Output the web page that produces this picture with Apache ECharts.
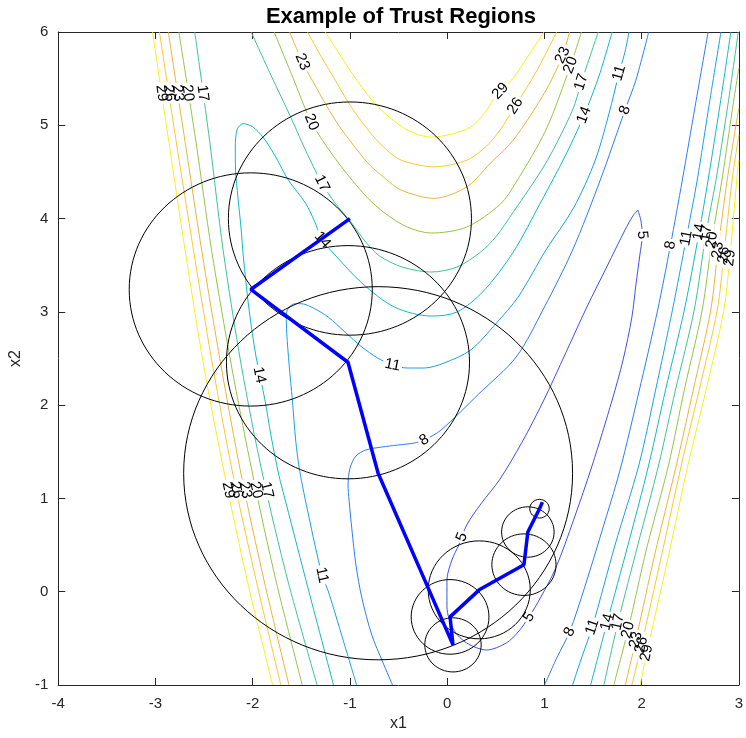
<!DOCTYPE html>
<html>
<head>
<meta charset="utf-8">
<title>Example of Trust Regions</title>
<script src="https://cdn.jsdelivr.net/npm/echarts/dist/echarts.min.js"></script>
<style>
  html, body { margin: 0; padding: 0; background: #fff; }
  #chart { width: 746px; height: 738px; }
</style>
</head>
<body>
<div id="chart"></div>
<script>
// ---- contour levels ----
const levels = [5, 8, 11, 14, 17, 20, 23, 26, 29];

// ---- contour lines, [x1, x2] vertices ----
const c5Loop = [[1.961,4.091],[1.992,3.984],[2.007,3.823],[1.982,3.609],[1.941,3.287],[1.9,2.944],[1.809,2.483],[1.697,2.055],[1.493,1.358],[1.3,0.768],[1.117,0.254],[0.964,-0.057],[0.842,-0.271],[0.73,-0.432],[0.608,-0.55],[0.405,-0.625],[0.201,-0.55],[0.069,-0.411],[-0.002,-0.164],[-0.002,0.125],[0.049,0.34],[0.12,0.501],[0.201,0.715],[0.354,0.951],[0.537,1.197],[0.771,1.604],[0.995,2.055],[1.219,2.558],[1.432,3.041],[1.646,3.491],[1.829,3.877],[1.91,4.027],[1.961,4.091]];

const c8Upper = [[2.073,6.0],[1.941,5.484],[1.829,5.163],[1.575,4.413],[1.29,3.662],[0.995,3.041],[0.71,2.516],[0.324,2.119],[-0.063,1.733],[-0.236,1.626],[-0.338,1.594],[-0.511,1.572],[-0.673,1.551],[-0.836,1.519],[-0.938,1.454],[-0.999,1.326],[-1.019,1.144],[-1.009,0.983],[-0.979,0.661],[-0.938,0.286],[-0.877,-0.068],[-0.775,-0.464],[-0.663,-0.753],[-0.562,-1.0]];
const c8Right = [[1.002,-1.0],[1.127,-0.711],[1.259,-0.432],[1.412,0.04],[1.595,0.661],[1.778,1.304],[1.972,2.14],[2.165,3.019],[2.297,3.716],[2.419,4.413],[2.551,5.206],[2.684,6.0]];

const c11Main = [[1.87,6.0],[1.829,5.785],[1.768,5.559],[1.666,5.131],[1.524,4.627],[1.3,4.113],[1.015,3.662],[0.73,3.159],[0.507,2.88],[0.242,2.591],[-0.033,2.451],[-0.236,2.398],[-0.409,2.398],[-0.562,2.43],[-0.714,2.505],[-0.877,2.623],[-1.05,2.783],[-1.223,2.944],[-1.375,3.041],[-1.477,3.084],[-1.558,3.089],[-1.625,3.051],[-1.655,2.966],[-1.65,2.773],[-1.625,2.43],[-1.592,2.055],[-1.558,1.626],[-1.518,1.304],[-1.426,0.822],[-1.287,0.179],[-1.22,-0.003],[-1.07,-0.518],[-0.931,-1.0]];
const c11Right = [[1.29,-1.0],[1.392,-0.68],[1.493,-0.378],[1.727,0.501],[1.972,1.358],[2.144,2.162],[2.317,3.019],[2.46,3.791],[2.572,4.413],[2.694,5.216],[2.816,6.0]];

const c14Main = [[1.697,6.0],[1.565,5.538],[1.409,5.109],[1.219,4.681],[0.964,4.177],[0.68,3.641],[0.374,3.223],[0.1,2.998],[-0.165,2.955],[-0.541,3.051],[-0.877,3.309],[-1.162,3.62],[-1.284,3.77],[-1.365,3.973],[-1.457,4.166],[-1.64,4.423],[-1.762,4.659],[-1.894,4.874],[-1.996,4.981],[-2.047,5.007],[-2.098,5.018],[-2.159,4.959],[-2.179,4.766],[-2.176,4.52],[-2.152,4.23],[-2.118,3.877],[-2.098,3.609],[-2.037,3.019],[-1.965,2.516],[-1.874,2.055],[-1.813,1.68],[-1.731,1.251],[-1.66,0.961],[-1.426,0.018],[-1.169,-1.0]];
const c14Right = [[1.476,-1.0],[1.646,-0.325],[1.86,0.501],[2.073,1.358],[2.246,2.162],[2.439,3.019],[2.592,3.855],[2.684,4.413],[2.806,5.216],[2.918,6.0]];

const c17Wall = [[-2.596,6.0],[-2.444,4.841],[-2.304,3.662],[-2.118,2.43],[-1.897,1.251],[-1.64,0.125],[-1.338,-1.0]];
const c17Arc = [[-2.016,6.0],[-1.813,5.538],[-1.609,5.088],[-1.457,4.734],[-1.287,4.377],[-1.152,4.166],[-0.982,3.952],[-0.846,3.759],[-0.694,3.598],[-0.46,3.48],[-0.165,3.427],[0.1,3.48],[0.344,3.641],[0.507,3.812],[0.68,4.07],[1.015,4.595],[1.29,5.163],[1.381,5.463],[1.554,6.0]];
const c17Right = [[1.612,-1.0],[1.758,-0.325],[1.961,0.501],[2.175,1.358],[2.348,2.162],[2.541,3.019],[2.663,3.845],[2.765,4.413],[2.887,5.216],[2.994,6.0]];

const c20Wall = [[-2.759,6.0],[-2.586,4.841],[-2.423,3.662],[-2.22,2.43],[-1.999,1.251],[-1.762,0.125],[-1.49,-1.0]];
const c20Arc = [[-1.779,6.0],[-1.589,5.517],[-1.396,5.034],[-1.192,4.702],[-0.979,4.413],[-0.816,4.22],[-0.643,4.059],[-0.409,3.909],[-0.165,3.845],[0.201,3.909],[0.547,4.155],[0.71,4.391],[1.015,4.949],[1.27,5.645],[1.381,6.0]];
const c20Right = [[1.714,-1.0],[1.86,-0.411],[2.053,0.468],[2.277,1.358],[2.439,2.162],[2.623,3.019],[2.724,3.77],[2.826,4.413],[2.948,5.27],[3.0,5.613]];

const c23Wall = [[-2.868,6.0],[-2.698,4.841],[-2.525,3.662],[-2.327,2.43],[-2.118,1.251],[-1.884,0.125],[-1.627,-1.0]];
const c23Arc = [[-1.62,6.0],[-1.49,5.681],[-1.389,5.484],[-1.152,5.056],[-0.989,4.82],[-0.813,4.592],[-0.643,4.434],[-0.473,4.305],[-0.134,4.217],[0.204,4.341],[0.443,4.592],[0.68,4.841],[1.018,5.377],[1.188,5.752],[1.259,6.0]];
const c23Right = [[1.832,-1.0],[1.941,-0.518],[2.134,0.393],[2.358,1.358],[2.531,2.162],[2.711,3.019],[2.785,3.662],[2.88,4.413],[3.0,5.184]];

const c26Wall = [[-2.959,6.0],[-2.789,4.841],[-2.609,3.662],[-2.413,2.43],[-2.202,1.251],[-1.965,0.125],[-1.711,-1.0]];
const c26Arc = [[-1.436,6.0],[-1.304,5.752],[-1.152,5.484],[-0.999,5.216],[-0.813,4.949],[-0.653,4.766],[-0.473,4.627],[-0.134,4.555],[0.204,4.627],[0.405,4.777],[0.544,4.949],[0.7,5.206],[0.914,5.57],[1.127,6.0]];
const c26Right = [[1.9,-1.0],[1.999,-0.571],[2.195,0.34],[2.409,1.358],[2.592,2.162],[2.778,3.019],[2.846,3.609],[2.931,4.413],[3.0,4.895]];

const c29Wall = [[-3.03,6.0],[-2.865,4.84],[-2.695,3.66],[-2.505,2.43],[-2.288,1.251],[-2.057,0.125],[-1.795,-1.0]];
const c29Arc = [[-1.253,6.0],[-1.121,5.785],[-0.979,5.559],[-0.816,5.324],[-0.643,5.131],[-0.409,4.949],[-0.165,4.873],[0.049,4.906],[0.242,4.981],[0.385,5.131],[0.507,5.324],[0.68,5.506],[0.832,5.742],[0.995,6.0]];
const c29Right = [[1.985,-1.0],[2.053,-0.657],[2.256,0.286],[2.477,1.358],[2.663,2.162],[2.846,3.019],[2.907,3.577],[2.979,4.413],[3.0,4.627]];

// ---- contour labels: [x1, x2, level] ----
const contourLabels = [
  [-2.937,5.345,29],[-2.861,5.345,26],[-2.769,5.345,23],[-2.667,5.345,20],[-2.515,5.345,17],
  [-2.25,1.09,29],[-2.169,1.09,26],[-2.077,1.09,23],[-1.965,1.09,20],[-1.854,1.09,17],
  [-1.49,5.681,23],[-1.396,5.034,20],[-1.287,4.377,17],[-1.284,3.77,14],[-1.932,2.323,14],
  [-0.562,2.43,11],[-1.287,0.179,11],[-0.236,1.626,8],
  [0.547,5.367,29],[0.7,5.206,26],[1.188,5.752,23],[1.27,5.645,20],[1.381,5.463,17],
  [1.409,5.109,14],[1.768,5.559,11],[1.829,5.163,8],
  [2.007,3.823,5],[0.151,0.586,5],[0.842,-0.271,5],
  [2.297,3.716,8],[2.46,3.791,11],[2.592,3.855,14],[2.663,3.845,17],[2.724,3.77,20],
  [2.785,3.662,23],[2.846,3.609,26],[2.907,3.577,29],
  [1.259,-0.432,8],[1.493,-0.378,11],[1.646,-0.325,14],[1.758,-0.325,17],[1.86,-0.411,20],
  [1.941,-0.518,23],[1.999,-0.571,26],[2.053,-0.657,29]
];

// ---- iterates of the trust-region method and the radius used at each one ----
const iterates = [[-1,4],[-2.02,3.24],[-1.02,2.46],[-0.71,1.27],[0.06,-0.57],[0.03,-0.27],[0.33,0.02],[0.79,0.29],[0.83,0.64],[0.95,0.89],[0.98,0.96]];
const radii = [1.25, 1.25, 1.25, 2.0, 0.29, 0.40, 0.525, 0.33, 0.27, 0.10];

// ---- axis ranges ----
const xRange = [-4, 3];
const yRange = [-1, 6];

// ---- styling ----
const FONT = '"Liberation Sans", Arial, Helvetica, sans-serif';
const AXIS_COLOR = '#262626';
const levelColors = {
  5: '#3e52e8', 8: '#2d7df5', 11: '#19a0e6', 14: '#0fb9c8', 17: '#3cc396',
  20: '#96c346', 23: '#ebb437', 26: '#fac82d', 29: '#f8f019'
};

const contourPieces = [
  { level: 5, points: c5Loop },
  { level: 8, points: c8Upper }, { level: 8, points: c8Right },
  { level: 11, points: c11Main }, { level: 11, points: c11Right },
  { level: 14, points: c14Main }, { level: 14, points: c14Right },
  { level: 17, points: c17Wall }, { level: 17, points: c17Arc }, { level: 17, points: c17Right },
  { level: 20, points: c20Wall }, { level: 20, points: c20Arc }, { level: 20, points: c20Right },
  { level: 23, points: c23Wall }, { level: 23, points: c23Arc }, { level: 23, points: c23Right },
  { level: 26, points: c26Wall }, { level: 26, points: c26Arc }, { level: 26, points: c26Right },
  { level: 29, points: c29Wall }, { level: 29, points: c29Arc }, { level: 29, points: c29Right }
];

const trustRegions = radii.map((r, i) => [iterates[i][0], iterates[i][1], r]);

function segDist(p, a, b) {
  const dx = b[0] - a[0], dy = b[1] - a[1];
  const len2 = dx * dx + dy * dy || 1;
  let t = ((p[0] - a[0]) * dx + (p[1] - a[1]) * dy) / len2;
  t = Math.max(0, Math.min(1, t));
  const qx = a[0] + t * dx - p[0], qy = a[1] + t * dy - p[1];
  return Math.sqrt(qx * qx + qy * qy);
}

// Label text follows the direction of the nearest stretch of its own contour.
function labelRenderer(gapOnly) {
  return function (params, api) {
    const level = api.value(2);
    const p = api.coord([api.value(0), api.value(1)]);
    let best = Infinity, ang = 0;
    contourPieces.forEach(function (piece) {
      if (piece.level !== level) return;
      for (let i = 0; i < piece.points.length - 1; i++) {
        const a = api.coord(piece.points[i]);
        const b = api.coord(piece.points[i + 1]);
        const d = segDist(p, a, b);
        if (d < best) {
          best = d;
          ang = Math.atan2(-(b[1] - a[1]), b[0] - a[0]);
        }
      }
    });
    if (ang > Math.PI / 2) ang -= Math.PI;
    else if (ang <= -Math.PI / 2) ang += Math.PI;
    const style = {
      text: String(level),
      font: '15px ' + FONT,
      align: 'center',
      verticalAlign: 'middle'
    };
    if (gapOnly) {
      style.fill = 'rgba(0,0,0,0)';
      style.backgroundColor = '#ffffff';
      style.padding = [0, 2];
    } else {
      style.fill = '#000000';
    }
    return { type: 'text', x: p[0], y: p[1], rotation: ang, style: style };
  };
}

const series = [];
contourPieces.forEach(function (piece) {
  series.push({
    type: 'line',
    data: piece.points,
    showSymbol: false,
    symbol: 'none',
    smooth: 0.3,
    clip: true,
    silent: true,
    z: 2,
    lineStyle: { color: levelColors[piece.level], width: 1 }
  });
});

series.push({
  type: 'custom',
  coordinateSystem: 'cartesian2d',
  data: contourLabels,
  encode: { x: 0, y: 1 },
  renderItem: labelRenderer(true),
  silent: true,
  z: 3
});
series.push({
  type: 'custom',
  coordinateSystem: 'cartesian2d',
  data: contourLabels,
  encode: { x: 0, y: 1 },
  renderItem: labelRenderer(false),
  silent: true,
  z: 4
});

// trust-region circles
series.push({
  type: 'custom',
  coordinateSystem: 'cartesian2d',
  data: trustRegions,
  encode: { x: 0, y: 1 },
  clip: true,
  silent: true,
  z: 5,
  renderItem: function (params, api) {
    const c = api.coord([api.value(0), api.value(1)]);
    const s = api.size([api.value(2), api.value(2)]);
    return {
      type: 'ellipse',
      shape: { cx: c[0], cy: c[1], rx: s[0], ry: s[1] },
      style: { fill: 'none', stroke: '#000000', lineWidth: 1 }
    };
  }
});

// path of the iterates
series.push({
  type: 'line',
  data: iterates,
  showSymbol: false,
  symbol: 'none',
  silent: true,
  z: 6,
  lineStyle: { color: '#0000ff', width: 3.5 }
});

function baseAxis(extra) {
  return Object.assign({
    type: 'value',
    interval: 1,
    splitLine: { show: false },
    axisLine: { onZero: false, lineStyle: { color: AXIS_COLOR, width: 1 } },
    axisTick: { inside: true, length: 7, lineStyle: { color: AXIS_COLOR, width: 1 } }
  }, extra);
}

const chart = echarts.init(document.getElementById('chart'), null, { renderer: 'canvas' });
chart.setOption({
  animation: false,
  backgroundColor: '#ffffff',
  grid: { left: 57, right: 1, top: 32, bottom: 53, containLabel: false },
  graphic: [{
    type: 'text',
    x: 401, y: 17,
    style: {
      text: 'Example of Trust Regions',
      font: 'bold 22px ' + FONT,
      fill: '#000000',
      align: 'center',
      verticalAlign: 'middle'
    }
  }],
  xAxis: [
    baseAxis({
      min: xRange[0], max: xRange[1], position: 'bottom',
      axisLabel: { color: AXIS_COLOR, fontSize: 15, fontFamily: FONT, margin: 11 },
      name: 'x1', nameLocation: 'middle', nameGap: 29,
      nameTextStyle: { color: AXIS_COLOR, fontSize: 16, fontFamily: FONT }
    }),
    baseAxis({
      min: xRange[0], max: xRange[1], position: 'top',
      axisLabel: { show: false }
    })
  ],
  yAxis: [
    baseAxis({
      min: yRange[0], max: yRange[1], position: 'left',
      axisLabel: { color: AXIS_COLOR, fontSize: 15, fontFamily: FONT, margin: 10 },
      name: 'x2', nameLocation: 'middle', nameGap: 29, nameRotate: 90,
      nameTextStyle: { color: AXIS_COLOR, fontSize: 16, fontFamily: FONT }
    }),
    baseAxis({
      min: yRange[0], max: yRange[1], position: 'right',
      axisLabel: { show: false }
    })
  ],
  series: series
});
</script>
</body>
</html>
